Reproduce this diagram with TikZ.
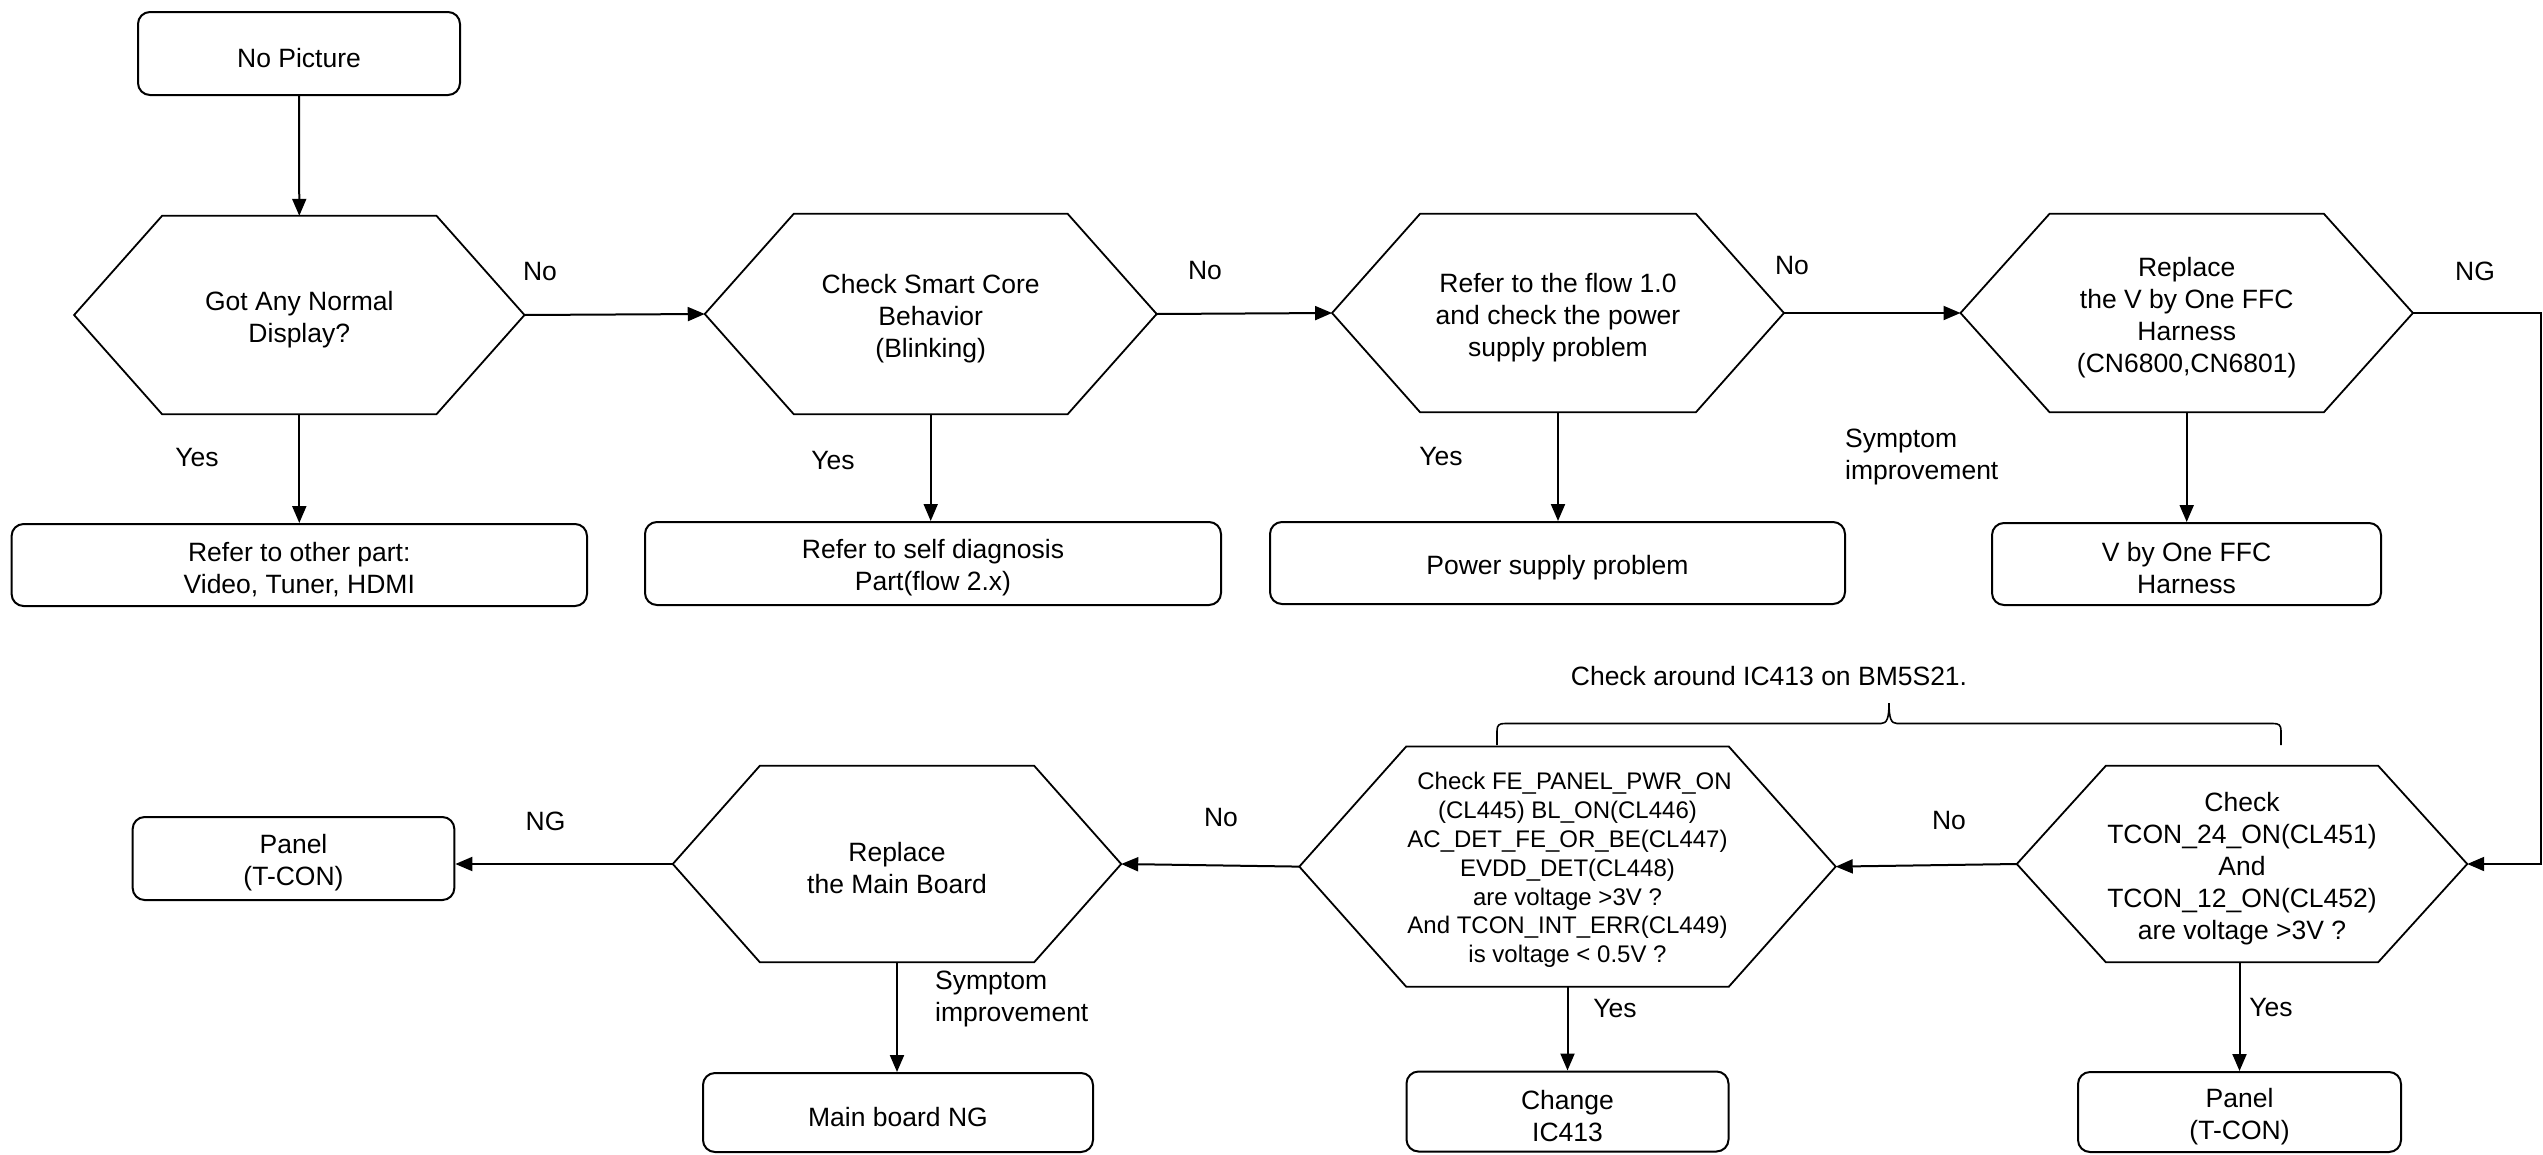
\documentclass[tikz,border=0pt]{standalone}
\usepackage{fontspec}
\setmainfont{Liberation Sans}
\usetikzlibrary{arrows.meta}
\newcommand\hexpath[2]{\draw[hexline] (#1.west) -- ([xshift=#2]#1.north west) -- ([xshift=-#2]#1.north east) -- (#1.east) -- ([xshift=-#2]#1.south east) -- ([xshift=#2]#1.south west) -- cycle;}
\tikzset{
  txtfont/.style={font=\fontsize{26.5}{32}\selectfont},
  box/.style={draw, rounded corners=12pt, line width=2pt, inner sep=0pt},
  hexnode/.style={inner sep=0pt},
  hexline/.style={line width=1.8pt, line join=miter},
  arr/.style={line width=2pt, -{Triangle[length=17pt,width=14pt]}},
  lbl/.style={inner sep=0pt, align=center, txtfont},
  intext/.style={lbl, yshift=-4.5pt},
}
\begin{document}
\begin{tikzpicture}[x=1pt,y=-1pt]
\useasboundingbox[fill=white] (0,0) rectangle (2543,1154);

% top row
\node[box, minimum width=322pt, minimum height=83pt] (np) at (299,53.5) {};
\node[intext] (npt) at (np.center) {No Picture};

\node[hexnode, minimum width=450pt, minimum height=198pt] (h1) at (299.3,315) {};
\hexpath{h1}{88pt}
\node[intext] (h1t) at (h1.center) {Got Any Normal\\Display?};
\node[hexnode, minimum width=451.5pt, minimum height=200pt] (h2) at (930.7,314) {};
\hexpath{h2}{89pt}
\node[intext] (h2t) at (h2.center) {Check Smart Core\\Behavior\\(Blinking)};
\node[hexnode, minimum width=451.5pt, minimum height=198pt] (h3) at (1558,313) {};
\hexpath{h3}{88pt}
\node[intext] (h3t) at (h3.center) {Refer to the flow 1.0\\and check the power\\supply problem};
\node[hexnode, minimum width=452pt, minimum height=198pt] (h4) at (2186.7,313) {};
\hexpath{h4}{89pt}
\node[intext] (h4t) at (h4.center) {Replace\\the V by One FFC\\Harness\\(CN6800,CN6801)};

% second row boxes
\node[box, minimum width=575.4pt, minimum height=82pt] (b1) at (299.3,565) {};
\node[intext] (b1t) at (b1.center) {Refer to other part:\\Video, Tuner, HDMI};
\node[box, minimum width=576pt, minimum height=83pt] (b2) at (933,563.5) {};
\node[intext] (b2t) at (b2.center) {Refer to self diagnosis\\Part(flow 2.x)};
\node[box, minimum width=575pt, minimum height=82pt] (b3) at (1557.5,563) {};
\node[intext] (b3t) at (b3.center) {Power supply problem};
\node[box, minimum width=389pt, minimum height=82pt] (b4) at (2186.5,564) {};
\node[intext] (b4t) at (b4.center) {V by One FFC\\Harness};

% bottom row
\node[box, minimum width=321.7pt, minimum height=83pt] (p1) at (293.5,858.5) {};
\node[intext] (p1t) at (p1.center) {Panel\\(T-CON)};
\node[hexnode, minimum width=448pt, minimum height=196pt] (h5) at (897,864) {};
\hexpath{h5}{87pt}
\node[intext] (h5t) at (h5.center) {Replace\\the Main Board};
\node[hexnode, minimum width=536pt, minimum height=240pt] (h6) at (1567.5,866.6) {};
\hexpath{h6}{107pt}
\node[intext, font=\fontsize{24}{28.8}\selectfont, yshift=1pt] (h6t) at (h6.center)
  {\hspace{14pt}Check FE\_PANEL\_PWR\_ON\\(CL445) BL\_ON(CL446)\\AC\_DET\_FE\_OR\_BE(CL447)\\EVDD\_DET(CL448)\\are voltage >3V ?\\And TCON\_INT\_ERR(CL449)\\is voltage < 0.5V ?};
\node[hexnode, minimum width=450pt, minimum height=196pt] (h7) at (2242,864) {};
\hexpath{h7}{89pt}
\node[intext] (h7t) at (h7.center) {Check\\TCON\_24\_ON(CL451)\\And\\TCON\_12\_ON(CL452)\\are voltage >3V ?};

\node[box, minimum width=390pt, minimum height=79pt] (mb) at (898,1112.5) {};
\node[intext] (mbt) at (mb.center) {Main board NG};
\node[box, minimum width=322pt, minimum height=80pt] (ch) at (1567.5,1111.5) {};
\node[intext] (cht) at (ch.center) {Change\\IC413};
\node[box, minimum width=323pt, minimum height=80pt] (p2) at (2239.5,1112) {};
\node[intext] (p2t) at (p2.center) {Panel\\(T-CON)};

% connectors
\draw[arr] (np.south) -- (h1.north);
\draw[arr] (h1.east) -- (h2.west);
\draw[arr] (h2.east) -- (h3.west);
\draw[arr] (h3.east) -- (h4.west);
\draw[arr] (h1.south) -- (h1.south |- b1.north);
\draw[arr] (h2.south) -- (h2.south |- b2.north);
\draw[arr] (h3.south) -- (h3.south |- b3.north);
\draw[arr] (h4.south) -- (h4.south |- b4.north);
\coordinate (ngr) at (2540.5,313);
\draw[arr] (h4.east) -- (ngr) |- (h7.east);
\draw[arr] (h7.west) -- (h6.east);
\draw[arr] (h6.west) -- (h5.east);
\draw[arr] (h5.west) -- (h5.west -| p1.east);
\draw[arr] (h5.south) -- (h5.south |- mb.north);
\draw[arr] (h6.south) -- (h6.south |- ch.north);
\draw[arr] ([xshift=-2.5pt]h7.south) -- ([xshift=-2.5pt]h7.south |- p2.north);

% labels
\node[lbl] (l1) at (540,272) {No};
\node[lbl] (l2) at (1205,271) {No};
\node[lbl] (l3) at (1792,266) {No};
\node[lbl] (l4) at (2475,271) {NG};
\node[lbl] (y1) at (197,458) {Yes};
\node[lbl] (y2) at (833,461) {Yes};
\node[lbl] (y3) at (1441,457) {Yes};
\node[lbl, anchor=west, align=left] (s1) at (1845,457) {Symptom\\improvement};
\node[lbl] (l5) at (545.5,821) {NG};
\node[lbl] (l6) at (1221,817.5) {No};
\node[lbl] (l7) at (1949,821) {No};
\node[lbl] (y4) at (1615,1008) {Yes};
\node[lbl] (y5) at (2271,1007) {Yes};
\node[lbl, anchor=west, align=left] (s2) at (935,999) {Symptom\\improvement};
\node[lbl] (chk) at (1769,676.5) {Check around IC413 on BM5S21.};

% brace
\draw[line width=1.6pt] (1497,745) -- (1497,731) .. controls (1497,725) and (1499,723.5) .. (1505,723.5)
  -- (1881,723.5) .. controls (1887,723.5) and (1889,718) .. (1889,703)
  .. controls (1889,718) and (1891,723.5) .. (1897,723.5)
  -- (2273,723.5) .. controls (2279,723.5) and (2281,725) .. (2281,731) -- (2281,745);
\end{tikzpicture}
\end{document}
